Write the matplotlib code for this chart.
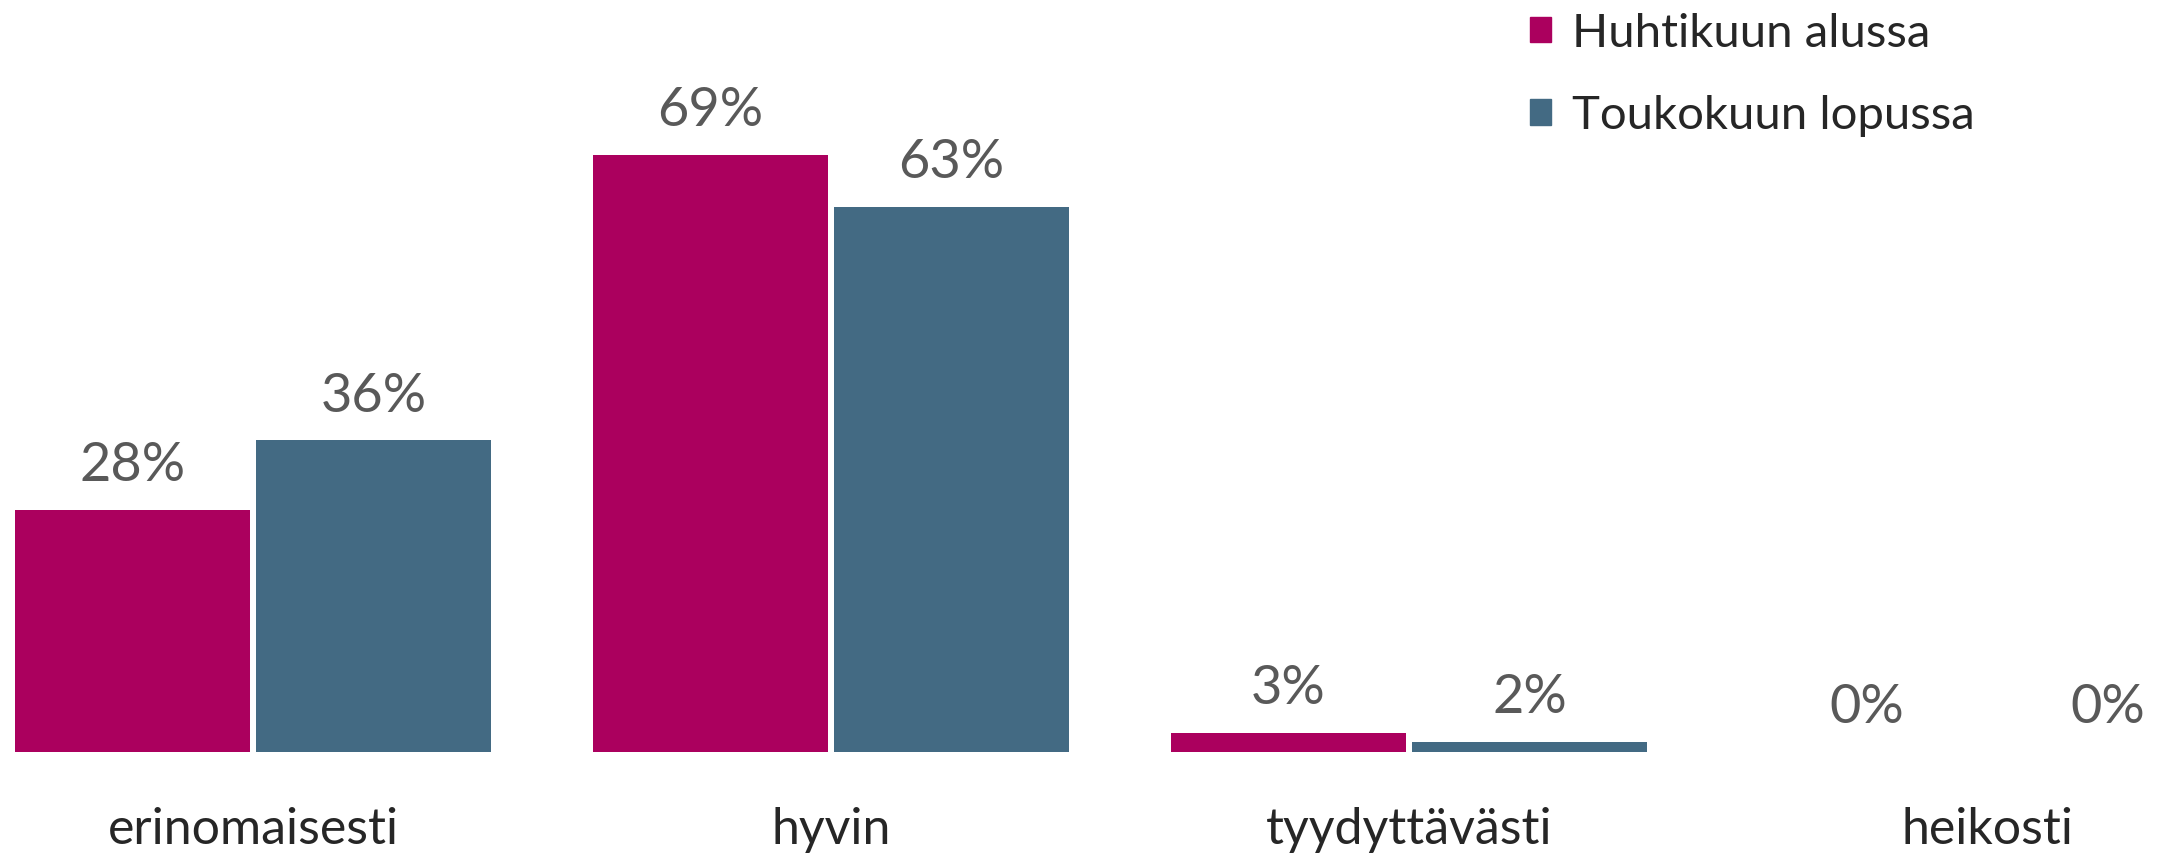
import matplotlib.pyplot as plt
import numpy as np
from matplotlib.patches import Patch

categories = ["erinomaisesti", "hyvin", "tyydyttävästi", "heikosti"]
series_names = ["Huhtikuun alussa", "Toukokuun lopussa"]
# bar heights
huhtikuu = [28, 69, 2.2, 0]
toukokuu = [36, 63, 1.2, 0]
# printed labels
huhtikuu_labels = ["28%", "69%", "3%", "0%"]
toukokuu_labels = ["36%", "63%", "2%", "0%"]
colors = ["#AB005E", "#436A83"]

plt.rcParams["font.family"] = ["Lato", "DejaVu Sans"]


def plot_bars() -> None:
    fig = plt.figure(figsize=(21.74, 8.55), dpi=100)
    ax = fig.add_axes([0, 0.1205, 1, 0.8795])

    x = np.arange(len(categories))
    width = 0.4066
    offset = 0.2085

    for vals, labels, color, sign in zip(
        [huhtikuu, toukokuu], [huhtikuu_labels, toukokuu_labels], colors, [-1, 1]
    ):
        bars = ax.bar(x + sign * offset, vals, width, color=color)
        for b, v, lab in zip(bars, vals, labels):
            ax.text(
                b.get_x() + b.get_width() / 2,
                v + 2.3,
                lab,
                ha="center",
                va="bottom",
                fontsize=39,
                color="#595959",
            )

    for xi, cat in zip(x, categories):
        ax.text(xi, -9.0, cat, ha="center", va="center", fontsize=36, color="#262626")

    ax.set_xlim(-0.4377, 3.3235)
    ax.set_ylim(0, 86.9)
    ax.axis("off")

    handles = [Patch(color=c, label=n) for c, n in zip(colors, series_names)]
    fig.legend(
        handles=handles,
        loc="upper left",
        bbox_to_anchor=(0.684, 1.035),
        frameon=False,
        fontsize=34,
        handlelength=0.45,
        handleheight=0.45,
        handletextpad=0.45,
        labelspacing=0.85,
        labelcolor="#262626",
    )

    fig.savefig("out.png", dpi=100)


def main():
    plot_bars()


if __name__ == "__main__":
    main()
